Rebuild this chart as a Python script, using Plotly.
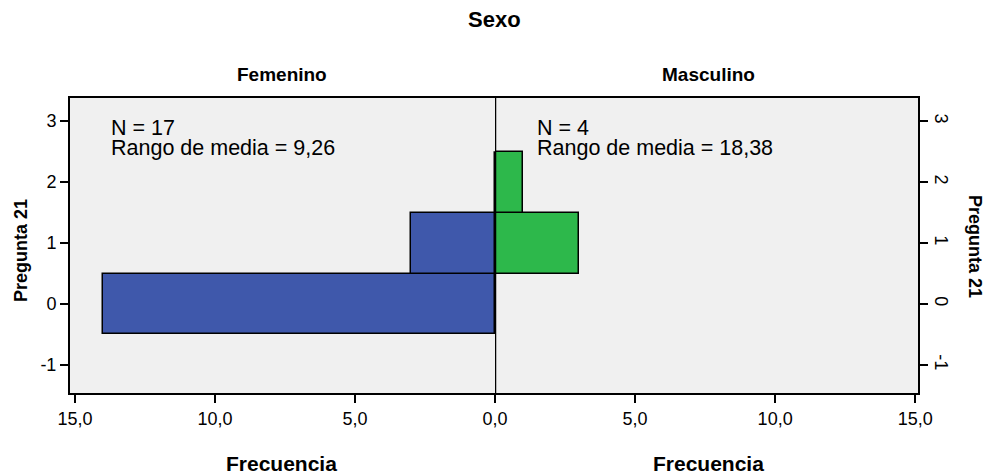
import plotly.graph_objects as go

# Frequencies of "Pregunta 21" per sex
categorias = [0, 1, 2]
freq_femenino = [14, 3, 0]
freq_masculino = [0, 3, 1]
y_ticks = [-1, 0, 1, 2, 3]
x_ticks = [0, 5, 10, 15]
stats_femenino = ["N = 17", "Rango de media = 9,26"]
stats_masculino = ["N = 4", "Rango de media = 18,38"]

W, H = 984, 476
L, R, T, B = 70, 918, 98, 393
FONT = "Liberation Sans, Arial, sans-serif"
BLUE = "#3F58AB"
GREEN = "#2DB84B"


def px_x(v):
    return (v - L) / (R - L)


def px_y(v):
    return (B - v) / (B - T)


mid = px_x(495)

fig = go.Figure()
fig.add_bar(x=freq_femenino, y=categorias, orientation="h", width=1,
            marker=dict(color=BLUE, line=dict(color="black", width=1.5)),
            xaxis="x", yaxis="y", showlegend=False)
fig.add_bar(x=freq_masculino, y=categorias, orientation="h", width=1,
            marker=dict(color=GREEN, line=dict(color="black", width=1.5)),
            xaxis="x2", yaxis="y2", showlegend=False)

tick_txt = [f"{v:.1f}".replace(".", ",") for v in x_ticks]
tick_txt2 = [""] + tick_txt[1:]  # 0,0 only drawn once
tfont = dict(size=18, color="black", family=FONT)
common_x = dict(tickvals=x_ticks, ticks="outside",
                ticklen=8, tickwidth=1.5, tickcolor="black", showgrid=False,
                zeroline=False, showline=True, linecolor="black", linewidth=2,
                mirror=True, tickfont=tfont)
common_y = dict(range=[-1.46, 3.38], tickvals=y_ticks,
                ticktext=[str(v) for v in y_ticks], ticks="outside", ticklen=8,
                tickwidth=1.5, tickcolor="black", showgrid=False,
                zeroline=False, showline=True, linecolor="black", linewidth=2,
                tickfont=tfont)
fig.update_layout(
    width=W, height=H,
    margin=dict(l=L, r=W - R, t=T, b=H - B),
    paper_bgcolor="white", plot_bgcolor="#F0F0F0",
    font=dict(family=FONT, color="black"),
    bargap=0,
    xaxis=dict(domain=[0, mid], range=[15.18, 0], anchor="y",
               ticktext=tick_txt, **common_x),
    xaxis2=dict(domain=[mid, 1], range=[0, 15.1], anchor="y2",
                ticktext=tick_txt2, **common_x),
    yaxis=dict(anchor="x", **common_y),
    yaxis2=dict(anchor="x2", side="right", tickangle=90, **common_y),
)

# vertical line at frequency 0
fig.add_shape(type="line", xref="x2", yref="paper", x0=0, x1=0, y0=0, y1=1,
              line=dict(color="black", width=2.5))

bold = dict(family=FONT, color="black")
ann = [
    dict(text="<b>Sexo</b>", x=px_x(494), y=px_y(20), size=22),
    dict(text="<b>Femenino</b>", x=px_x(282), y=px_y(75), size=19),
    dict(text="<b>Masculino</b>", x=px_x(708), y=px_y(75), size=19),
    dict(text="<b>Frecuencia</b>", x=px_x(281), y=px_y(463), size=21),
    dict(text="<b>Frecuencia</b>", x=px_x(708), y=px_y(463), size=21),
]
for a in ann:
    fig.add_annotation(text=a["text"], x=a["x"], y=a["y"], xref="paper",
                       yref="paper", showarrow=False, xanchor="center",
                       yanchor="middle", font=dict(size=a["size"], **bold))
fig.add_annotation(text="<b>Pregunta 21</b>", x=px_x(9), y=px_y(251),
                   xref="paper", yref="paper", showarrow=False, textangle=-90,
                   font=dict(size=18, **bold))
fig.add_annotation(text="<b>Pregunta 21</b>", x=px_x(987), y=px_y(246),
                   xref="paper", yref="paper", showarrow=False, textangle=90,
                   font=dict(size=18, **bold))

for x0, lines in ((109, stats_femenino), (535, stats_masculino)):
    for i, line in enumerate(lines):
        fig.add_annotation(text=line, x=px_x(x0), y=px_y(128 + 20 * i),
                           xref="paper", yref="paper", showarrow=False,
                           xanchor="left", yanchor="middle",
                           font=dict(size=21.5, family=FONT, color="black"))

fig.write_html("out.html", config={"displayModeBar": False},
               post_script="document.body.style.margin='0';")
